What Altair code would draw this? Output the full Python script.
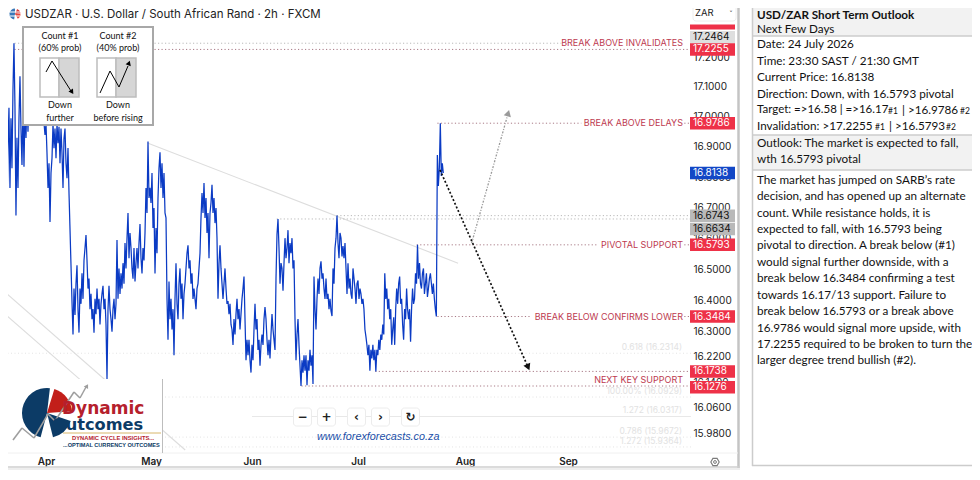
import altair as alt
import pandas as pd

# ---- price series, one list per calendar span
march_prices = [16.77,16.945,16.895,17.0,16.83,16.69,16.895,17.03,16.765,16.995,16.83,17.09,17.2464,17.03,16.675,16.93,16.765,16.995,17.135,16.96,16.84,17.04,16.835,17.03,16.93,17.06,16.95,17.09,17.02,17.12,17.04,17.15,17.07,17.12,17.03,17.08,17.0,17.05,16.98,17.03,17.0,17.06,16.98,16.94]
april_prices = [16.977,16.879,16.765,16.846,16.654,16.814,16.863,16.977,16.896,16.961,16.863,16.977,16.912,16.967,16.846,16.961,16.879,16.765,16.928,16.961,16.846,16.797,16.896,16.748,16.631,16.513,16.395,16.291,16.438,16.353,16.454,16.513,16.372,16.297,16.438,16.389,16.487,16.405,16.529,16.569,16.611,16.529,16.438,16.47,16.372,16.421,16.34,16.372,16.297,16.405,16.356,16.438,16.372,16.405,16.323,16.389,16.421,16.447,16.372,16.405,16.323,16.15,16.372,16.447,16.372,16.34,16.30,16.372,16.405,16.34,16.389,16.595,16.405,16.503,16.421,16.487,16.438,16.52,16.454,16.585,16.503,16.601,16.683,16.536,16.618,16.569,16.503,16.47,16.569,16.461,16.52,16.569,16.503,16.585,16.647,16.536,16.487,16.569,16.529,16.618,16.765,16.683,16.918,16.732,16.765]
may_prices = [16.716,16.814,16.634,16.699,16.487,16.634,16.552,16.732,16.83,16.882,16.765,16.846,16.732,16.814,16.683,16.667,16.405,16.274,16.461,16.34,16.405,16.307,16.372,16.225,16.405,16.52,16.389,16.34,16.454,16.503,16.405,16.454,16.34,16.421,16.454,16.503,16.552,16.578,16.503,16.529,16.454,16.487,16.405,16.438,16.405,16.372,16.438,16.454,16.503,16.552,16.667,16.748,16.683,16.781,16.667,16.732,16.618,16.683,16.536,16.683,16.716,16.775,16.683,16.732,16.65,16.699,16.601,16.405,16.52,16.578,16.503,16.454,16.405,16.454,16.503,16.438,16.389,16.398,16.356,16.389,16.323,16.307,16.258,16.34,16.291,16.356,16.405,16.34,16.372,16.307,16.356,16.405,16.438,16.477,16.34,16.209,16.274,16.225,16.274,16.209,16.17]
june_prices = [16.258,16.209,16.307,16.389,16.307,16.34,16.242,16.274,16.192,16.258,16.291,16.258,16.34,16.379,16.34,16.274,16.225,16.274,16.215,16.291,16.356,16.307,16.274,16.242,16.47,16.614,16.6634,16.569,16.454,16.52,16.503,16.431,16.52,16.601,16.536,16.569,16.627,16.52,16.585,16.552,16.601,16.503,16.529,16.34,16.209,16.291,16.34,16.258,16.192,16.1276,16.209,16.17,16.225,16.176,16.225,16.13,16.209,16.176,16.242,16.192,16.225,16.134,16.477,16.372,16.307,16.405,16.47,16.421,16.503,16.526,16.47,16.487,16.438,16.405,16.47,16.405,16.421,16.372,16.405,16.366,16.35,16.503,16.454,16.569,16.601,16.6743,16.585,16.536,16.618,16.601,16.542,16.575,16.536,16.585,16.503,16.421,16.52,16.438,16.47,16.421,16.405,16.503,16.47,16.438,16.389,16.454]
july_prices = [16.464,16.405,16.438,16.421,16.389,16.405,16.372,16.307,16.284,16.258,16.225,16.258,16.176,16.242,16.215,16.258,16.209,16.242,16.1738,16.242,16.225,16.274,16.242,16.291,16.274,16.323,16.291,16.487,16.405,16.438,16.372,16.405,16.34,16.372,16.258,16.307,16.346,16.258,16.372,16.438,16.389,16.454,16.477,16.389,16.405,16.323,16.274,16.372,16.34,16.438,16.372,16.34,16.372,16.268,16.372,16.438,16.389,16.405,16.487,16.454,16.5793,16.47,16.52,16.454,16.438,16.487,16.503,16.421,16.454,16.487,16.411,16.438,16.47,16.487,16.454,16.421,16.454,16.405,16.372,16.3484,16.873,16.771,16.83,16.9786,16.804,16.846,16.8138]
spans = [("2026-03-19 10:00","2026-04-01",march_prices),("2026-04-01","2026-05-01",april_prices),
         ("2026-05-01","2026-06-01",may_prices),("2026-06-01","2026-07-01",june_prices),
         ("2026-07-01","2026-07-26",july_prices)]

# ---- horizontal levels: price, first date, last date, kind
levels = [(17.2464,"2026-03-23","2026-08-30","g"),(17.2255,"2026-03-23","2026-10-08","r"),
          (16.9786,"2026-07-24","2026-09-05","r"),(16.9786,"2026-10-06","2026-10-08","r"),
          (16.6743,"2026-06-25","2026-10-08","g"),(16.6634,"2026-06-08","2026-10-08","g"),
          (16.5793,"2026-07-18","2026-09-10","r"),(16.5793,"2026-10-06","2026-10-08","r"),
          (16.3484,"2026-07-24","2026-08-21","r"),(16.3484,"2026-10-06","2026-10-08","r"),
          (16.1738,"2026-07-06","2026-10-08","r"),(16.1276,"2026-06-15","2026-10-08","r")]
fib_levels = [16.2314,16.0929,15.9672,15.9364]
fib_labels = [(16.2314,"0.618 (16.2314)"),(16.0929,"100.00% (16.0929)"),(16.0317,"1.272 (16.0317)"),
              (15.9672,"0.786 (15.9672)"),(15.9364,"1.272 (15.9364)")]
level_labels = [(17.2464,"BREAK ABOVE INVALIDATES"),(16.9786,"BREAK ABOVE DELAYS"),(16.5793,"PIVOTAL SUPPORT"),
                (16.3484,"BREAK BELOW CONFIRMS LOWER"),(16.147,"NEXT KEY SUPPORT")]
# price tags: where the tag sits on the price axis, its text, colours (pushed apart as in the picture)
tags = [(17.267,"17.2464","#dedede","#111"),(17.2255,"17.2255","#ee3148","white"),(16.9786,"16.9786","#ee3148","white"),
        (16.8138,"16.8138","#1247c6","white"),(16.6743,"16.6743","#b9b9b9","#111"),(16.631,"16.6634","#b9b9b9","#111"),
        (16.5793,"16.5793","#ee3148","white"),(16.3484,"16.3484","#ee3148","white"),(16.1738,"16.1738","#ee3148","white"),
        (16.1235,"16.1276","#ee3148","white")]
price_ticks = [17.2,17.1,17.0,16.9,16.8,16.7,16.6,16.5,16.4,16.3,16.22,16.14,16.06,15.98]

# ---- trend lines and projection arrows: start date, start price, end date, end price
trendlines = [("2026-04-30",16.913,"2026-07-30",16.52),("2026-03-19 16:00",16.433,"2026-05-11 12:00",15.927),("2026-03-19 08:00",16.365,"2026-04-10 18:00",16.148)]
arrows = [("2026-07-24 18:00",16.824,"2026-08-20",16.187,"#111",[2,2],1.7,156),
          ("2026-08-03",16.585,"2026-08-14",17.012,"#9a9a9a",[2,1.5,1,1.5],1.3,16)]

# ---- side panel
panel_lines = [("USD/ZAR Short Term Outlook",14.5,"bold"),("Next Few Days",28.5,"normal"),("Date: 24 July 2026",44,"normal"),
    ("Time: 23:30 SAST / 21:30 GMT",60.5,"normal"),("Current Price: 16.8138",77,"normal"),
    ("Direction: Down, with 16.5793 pivotal",93.5,"normal"),("Outlook: The market is expected to fall,",142.5,"normal"),
    ("wth 16.5793 pivotal",159,"normal"),("The market has jumped on SARB\u2019s rate",180,"normal"),
    ("decision, and has opened up an alternate",196,"normal"),("count.  While resistance holds, it is",212.5,"normal"),
    ("expected to fall, with 16.5793 being",229,"normal"),("pivotal to direction.  A break below (#1)",245,"normal"),
    ("would signal further downside, with a",262,"normal"),("break below 16.3484 confirming a test",278,"normal"),
    ("towards 16.17/13 support.  Failure to",295,"normal"),("break below 16.5793 or a break above",311,"normal"),
    ("16.9786 would signal more upside, with",327.5,"normal"),("17.2255 required to be broken to turn the",344,"normal"),
    ("larger degree trend bullish (#2).",360,"normal")]
panel_fragments = [(757,110,"Target: =>16.58 | =>16.17",11.5),(888,110.5,"#1",8.5),(902,110,"| >16.9786",11.7),(960,110.5,"#2",8.5),
                   (757,126,"Invalidation: >17.2255",11.7),(875,126.5,"#1",8.5),(889,126,"| >16.5793",11.7),(946,126.5,"#2",8.5)]
count_text = [(60,36,"Count #1"),(60,48,"(60% prob)"),(60,105,"Down"),(60,118,"further"),
              (118,36,"Count #2"),(118,48,"(40% prob)"),(118,105,"Down"),(118,118,"before rising")]
month_ticks = [("2026-04-01","Apr"),("2026-05-01","May"),("2026-06-01","Jun"),("2026-07-01","Jul"),("2026-08-01","Aug"),("2026-09-01","Sep")]
month_pixels = [46, 151, 252, 358, 465, 568]

def day(s):
    return (pd.Timestamp(s) - pd.Timestamp("2026-04-01")) / pd.Timedelta(days=1)

price_rows = []
for start, end, vals in spans:
    stamps = pd.date_range(start, end, periods=len(vals) + 1)[:-1]
    price_rows += [{"t": day(s), "p": v} for s, v in zip(stamps, vals)]
prices = pd.DataFrame(price_rows)

tick_days = [day(d) for d, _ in month_ticks]
label_expr = " : ".join(f"datum.value == {d} ? '{n}'" for (_, n), d in zip(month_ticks, tick_days)) + " : ''"
x_scale = alt.Scale(type="linear", domain=tick_days, range=month_pixels, nice=False, zero=False)
y_scale = alt.Scale(type="log", domain=[15.98, 17.2], range=[433, 57], nice=False, zero=False)
X = alt.X("t:Q", scale=x_scale, title=None,
          axis=alt.Axis(values=tick_days, labelExpr=label_expr, orient="bottom", offset=-24, domain=False,
                        ticks=False, grid=False, labelFont="Inter", labelFontSize=10, labelFontWeight=600, labelColor="#222",
                        labelPadding=0, labelFlush=False, labelOverlap=False))
Y = alt.Y("p:Q", scale=y_scale, title=None,
          axis=alt.Axis(values=price_ticks, format=".4f", orient="right", offset=-287, domain=False, ticks=False, grid=False,
                        labelFont="Inter", labelFontSize=10, labelColor="#222", labelPadding=0, labelFlush=False, labelOverlap=False))
X2 = alt.X2("t2:Q")
Y2 = alt.Y2("p2:Q")

def txt(x, y, s, size=10, color="#222", font="Inter", align="left", weight="normal", style="normal"):
    return alt.Chart().mark_text(text=s, fontSize=size, color=color, font=font, align=align, baseline="middle",
                                 fontWeight=weight, fontStyle=style).encode(x=alt.value(x), y=alt.value(y))

def box(x, y, x2, y2, fill, stroke=None, sw=1, radius=0):
    kw = {"stroke": stroke, "strokeWidth": sw} if stroke else {}
    return alt.Chart().mark_rect(color=fill, cornerRadius=radius, **kw).encode(
        x=alt.value(x), x2=alt.value(x2), y=alt.value(y), y2=alt.value(y2))

def seg(x, y, x2, y2, color="#000", w=1):
    return alt.Chart().mark_rule(color=color, strokeWidth=w).encode(
        x=alt.value(x), x2=alt.value(x2), y=alt.value(y), y2=alt.value(y2))

def head(x, y, angle, color="#000", size=30):
    return alt.Chart().mark_point(shape="triangle-up", filled=True, opacity=1, color=color, size=size, angle=angle).encode(
        x=alt.value(x), y=alt.value(y))

def wedge(cx, cy, r, a, b, color):
    return alt.Chart().mark_arc(radius=r, theta=a, theta2=b, color=color).encode(x=alt.value(cx), y=alt.value(cy))

layers = []
# faint fibonacci levels and trend lines
fib_df = pd.DataFrame({"p": fib_levels, "t": day("2026-03-19"), "t2": day("2026-10-08")})
layers.append(alt.Chart(fib_df).mark_rule(color="#e4e4e4", strokeDash=[1, 2.5]).encode(x=X, x2=X2, y=Y))
layers.append(alt.Chart(pd.DataFrame({"p": [16.0317], "t": [day("2026-06-01")], "t2": [day("2026-10-08")]})).mark_rule(color="#e8e8e8").encode(x=X, x2=X2, y=Y))
tr_df = pd.DataFrame([{"t": day(a), "p": b, "t2": day(c), "p2": d} for a, b, c, d in trendlines])
layers.append(alt.Chart(tr_df).mark_rule(color="#dddddd", strokeWidth=1.1).encode(x=X, x2=X2, y=Y, y2=Y2))
fl_df = pd.DataFrame(fib_labels, columns=["p", "s"])
layers.append(alt.Chart(fl_df).mark_text(color="#e2e2e2", font="Inter", fontSize=8.5, align="right", baseline="bottom", dy=-1).encode(
    x=alt.value(682), y=Y, text="s:N"))
# dotted levels
lv_df = pd.DataFrame([{"p": p, "t": day(a), "t2": day(b), "k": k} for p, a, b, k in levels])
for k, c in (("g", "#b9b9b9"), ("r", "#a97a86")):
    layers.append(alt.Chart(lv_df[lv_df.k == k]).mark_rule(color=c, strokeDash=[1.2, 2.3]).encode(x=X, x2=X2, y=Y))
# price line
layers.append(alt.Chart(prices).mark_line(color="#0b3bc4", strokeWidth=1.25, interpolate="linear").encode(x=X, y=Y))
# arrows
for t, p, t2, p2, c, dash, w, ang in arrows:
    d = pd.DataFrame([{"t": day(t), "p": p, "t2": day(t2), "p2": p2}])
    layers.append(alt.Chart(d).mark_rule(color=c, strokeDash=dash, strokeWidth=w).encode(x=X, x2=X2, y=Y, y2=Y2))
    layers.append(alt.Chart(d).mark_point(shape="triangle-up", filled=True, opacity=1, color=c, size=55, angle=ang).encode(
        x=alt.X("t2:Q", scale=x_scale), y=alt.Y("p2:Q", scale=y_scale)))
# level labels
ll_df = pd.DataFrame(level_labels, columns=["p", "s"])
layers.append(alt.Chart(ll_df).mark_text(color="#bd3a50", font="Inter", fontSize=9, align="right", baseline="middle").encode(
    x=alt.value(683), y=Y, text="s:N"))
# price tags
tag_df = pd.DataFrame(tags, columns=["p", "s", "bg", "fg"])
layers.append(alt.Chart(pd.DataFrame({"t": [0]})).mark_rule(color="#ee3148", strokeWidth=5).encode(x=alt.value(690), x2=alt.value(735), y=alt.value(27)))
layers.append(alt.Chart(tag_df).mark_rule(strokeWidth=12.5).encode(
    x=alt.value(690), x2=alt.value(735), y=Y, color=alt.Color("bg:N", scale=None, legend=None)))
layers.append(alt.Chart(tag_df).mark_text(font="Inter", fontSize=10, align="left", baseline="middle").encode(
    x=alt.value(693), y=Y, text="s:N", color=alt.Color("fg:N", scale=None, legend=None)))
layers.append(box(693, 4, 736, 21, "white", "#eeeeee", 1, 3))
layers.append(txt(695, 13, "ZAR", 9.5))
layers.append(txt(731, 13.5, "\u02c5", 7, align="center", font="DejaVu Sans"))
# frame of the chart
layers += [seg(0, 0.5, 740, 0.5, "#cccccc", 2), seg(2.5, 0, 2.5, 468, "#c8c8c8", 1.5), seg(738.5, 0, 738.5, 468, "#c4c4c4", 2.5),
           seg(0, 467, 740, 467, "#cfcfcf", 1.5), seg(0, 469, 740, 469, "#eeeeee", 2), seg(3, 453, 738, 453, "#f0f0f0", 1)]
# title
layers.append(txt(25, 14.5, "USDZAR \u00b7 U.S. Dollar / South African Rand \u00b7 2h \u00b7 FXCM", 11.5, "#222"))
layers += [wedge(15, 14, 5.5, 3.3, 6.28, "#3a78b8"), wedge(15, 14, 5.5, 0.4, 1.4, "#d93a3a"), wedge(15, 14, 5.5, 1.5, 2.6, "#e8483c"), seg(10, 12, 20, 12, "white", 1), seg(10, 16, 20, 16, "white", 1)]
# count legend
layers.append(box(23, 27, 153, 125, "white", "#a8a8a8", 2))
layers += [box(40, 58, 59, 97, "white", "#bdbdbd", 1.5), box(59, 58, 79, 97, "#d6d6d6", "#bdbdbd", 1.5),
           box(97, 58, 116, 97, "white", "#bdbdbd", 1.5), box(116, 58, 136, 97, "#d6d6d6", "#bdbdbd", 1.5),
           seg(46, 72, 52, 61), seg(52, 61, 71, 91), head(72, 92, 147), seg(100, 93, 110, 71), seg(110, 71, 119, 87), seg(119, 87, 128, 66), head(129, 63, 20)]
for x, y, s in count_text:
    layers.append(txt(x, y, s, 9, "#111", "Lato", "center"))
# controls
for bx, g in ((293, "\u2212"), (317, "+"), (347, "\u2039"), (371, "\u203a"), (401, "\u21bb")):
    layers.append(box(bx + 0.5, 408, bx + 18.5, 426, "white", "#ececec", 1, 3))
    layers.append(txt(bx + 9.5, 417, g, 12, "#222", "DejaVu Sans", "center", "bold"))
layers.append(txt(317, 437, "www.forexforecasts.co.za", 10.8, "#1a4fa8", "Liberation Sans", style="italic"))
# gear
layers.append(alt.Chart().mark_point(shape="M-1,0L-0.5,-0.87L0.5,-0.87L1,0L0.5,0.87L-0.5,0.87Z", size=70, color="#444", strokeWidth=1.1).encode(x=alt.value(715), y=alt.value(462)))
layers.append(alt.Chart().mark_point(shape="circle", size=8, color="#444", strokeWidth=1).encode(x=alt.value(715), y=alt.value(462)))
# logo
layers.append(box(4, 379, 162, 452, "white"))
layers.append(seg(162.5, 379, 162.5, 453, "#bdbdbd", 1))
layers += [wedge(47, 413, 25, 3.4, 6.4, "#0c3b66"), wedge(47, 413, 25, 0.3, 1.5, "#c21f1a"), wedge(47, 413, 25, 1.9, 2.9, "#0c3b66")]
for a in ((13, 440, 22, 428), (22, 428, 34, 438), (34, 438, 48, 414), (48, 414, 55, 421), (55, 421, 74, 392), (74, 392, 80, 398), (80, 398, 86, 387)):
    layers.append(seg(*a, "#9e9e9e", 1.5))
layers.append(head(87, 386, 30, "#9e9e9e", 25))
layers.append(txt(62, 409, "Dynamic", 17, "#b5202c", "DejaVu Sans", weight="bold"))
layers.append(txt(52, 425, "Outcomes", 16.2, "#0c3b66", "DejaVu Sans", weight="bold"))
layers.append(seg(63, 433, 161, 433, "#d8b66a", 1))
layers.append(txt(72, 438, "DYNAMIC CYCLE INSIGHTS...", 5.8, "#b5202c", "Liberation Sans", weight="bold"))
layers.append(txt(63, 444.5, "...OPTIMAL CURRENCY OUTCOMES", 5.6, "#0c3b66", "Liberation Sans", weight="bold"))
# side panel
layers += [box(752, 0, 980, 36, "#f2f2f2"), box(752, 135, 980, 170, "#f2f2f2"),
           seg(752, 36, 980, 36, "#cccccc", 1.5), seg(752, 135, 980, 135, "#cccccc", 1.5), seg(752, 170, 980, 170, "#cccccc", 1.5),
           seg(752.5, 0, 752.5, 466, "#cccccc", 1.5), seg(977.5, 0, 977.5, 466, "#cccccc", 1.5), seg(752, 465.5, 980, 465.5, "#cccccc", 1.5)]
for s, y, w in panel_lines:
    layers.append(txt(757, y, s, 11.7, "#111", "Lato", weight=w))
for x, y, s, size in panel_fragments:
    layers.append(txt(x, y, s, size, "#111", "Lato"))

chart = alt.layer(*layers).properties(
    width=980, height=480, autosize=alt.AutoSizeParams(type="none"),
    padding={"left": -8, "top": -8, "right": -8, "bottom": -8},
).configure_view(stroke=None)
chart.save("out.html", embed_options={"renderer": "svg", "actions": False})
